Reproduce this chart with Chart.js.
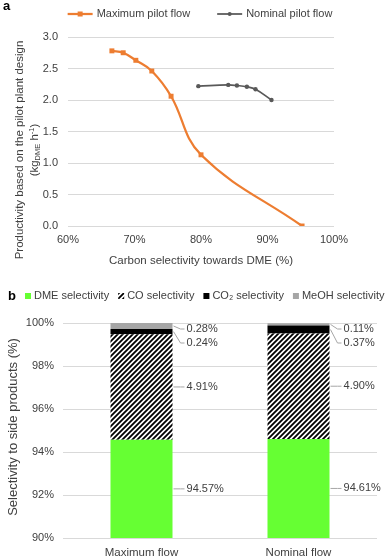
<!DOCTYPE html>
<html>
<head>
<meta charset="utf-8">
<script src="https://cdn.jsdelivr.net/npm/chart.js@4.4.0/dist/chart.umd.min.js"></script>
<style>
  html, body { margin: 0; padding: 0; background: #fff; }
  body { width: 392px; height: 559px; position: relative; overflow: hidden; font-family: 'Liberation Sans', Arial, sans-serif; }
  .box { position: absolute; left: 0; width: 392px; }
  #wrapA { top: 0; height: 272px; }
  #wrapB { top: 272px; height: 287px; }
  .tag { position: absolute; font-weight: bold; font-size: 13px; color: #000; line-height: 15px; }
</style>
</head>
<body>
<div class="box" id="wrapA"><canvas id="chartA" width="392" height="272"></canvas></div>
<div class="box" id="wrapB"><canvas id="chartB" width="392" height="287"></canvas></div>
<div class="tag" style="left:3px;top:-2px">a</div>
<div class="tag" style="left:8px;top:288px">b</div>
<script>
// (a) productivity vs carbon selectivity
const maxFlowSel  = [66.6, 68.3, 70.2, 72.6, 75.5, 80.0, 95.2];
const maxFlowProd = [2.78, 2.75, 2.63, 2.46, 2.06, 1.13, 0.00];
const nomFlowSel  = [79.6, 84.1, 85.4, 86.9, 88.2, 90.6];
const nomFlowProd = [2.22, 2.24, 2.23, 2.21, 2.17, 2.00];

// (b) selectivity to side products
const flowCats = ['Maximum flow', 'Nominal flow'];
const dmeSel  = [94.57, 94.61];
const coSel   = [4.91, 4.90];
const co2Sel  = [0.24, 0.37];
const meohSel = [0.28, 0.11];

const FONT = "'Liberation Sans', Arial, sans-serif";
const TXT = '#404040';
const gridColor = '#d9d9d9';

Chart.defaults.font.family = FONT;
Chart.defaults.color = TXT;

function pts(xs, ys) {
  return xs.map((x, i) => ({ x: x, y: ys[i] }));
}

// legend for chart a: line + marker + text
const legendA = {
  id: 'legendA',
  afterDraw(chart) {
    const ctx = chart.ctx;
    ctx.save();
    ctx.font = '11px ' + FONT;
    ctx.textBaseline = 'middle';
    const y = 14;
    const items = chart.data.datasets.map(ds => ({ ds: ds, w: 29 + ctx.measureText(ds.label).width }));
    const total = items.reduce((s, it) => s + it.w, 0) + 27 * (items.length - 1);
    let x = chart.width / 2 + 4 - total / 2;
    items.forEach(it => {
      const ds = it.ds;
      ctx.strokeStyle = ds.borderColor;
      ctx.lineWidth = ds.borderWidth;
      ctx.beginPath();
      ctx.moveTo(x, y);
      ctx.lineTo(x + 25, y);
      ctx.stroke();
      ctx.fillStyle = ds.borderColor;
      if (ds.pointStyle === 'rect') {
        ctx.fillRect(x + 12.5 - 2.5, y - 2.5, 5, 5);
      } else {
        ctx.beginPath();
        ctx.arc(x + 12.5, y, 2, 0, Math.PI * 2);
        ctx.fill();
      }
      ctx.fillStyle = TXT;
      ctx.fillText(ds.label, x + 29, y);
      x += it.w + 27;
    });
    ctx.restore();
  }
};

// y title of chart a, two lines with sub/superscript
const yTitleA = {
  id: 'yTitleA',
  afterDraw(chart) {
    const ctx = chart.ctx;
    const big = '11.5px ' + FONT;
    const small = '7.5px ' + FONT;
    const cy = 150;
    ctx.save();
    ctx.fillStyle = TXT;
    ctx.textBaseline = 'middle';
    ctx.translate(20, cy);
    ctx.rotate(-Math.PI / 2);
    ctx.font = big;
    ctx.textAlign = 'center';
    ctx.fillText('Productivity based on the pilot plant design', 0, 0);
    ctx.restore();

    const parts = [['(kg', big, 0], ['DME', small, 3], [' h', big, 0], ['-1', small, -3.5], [')', big, 0]];
    ctx.save();
    ctx.fillStyle = TXT;
    ctx.textBaseline = 'middle';
    ctx.textAlign = 'left';
    let total = 0;
    parts.forEach(p => { ctx.font = p[1]; total += ctx.measureText(p[0]).width; });
    ctx.translate(35, cy);
    ctx.rotate(-Math.PI / 2);
    let x = -total / 2;
    parts.forEach(p => {
      ctx.font = p[1];
      ctx.fillText(p[0], x, p[2]);
      x += ctx.measureText(p[0]).width;
    });
    ctx.restore();
  }
};

new Chart(document.getElementById('chartA'), {
  type: 'line',
  data: {
    datasets: [
      {
        label: 'Maximum pilot flow',
        data: pts(maxFlowSel, maxFlowProd),
        borderColor: '#ED7D31',
        backgroundColor: '#ED7D31',
        borderWidth: 2.25,
        pointStyle: 'rect',
        pointRadius: 3.5,
        pointBorderWidth: 0,
        tension: 0.4
      },
      {
        label: 'Nominal pilot flow',
        data: pts(nomFlowSel, nomFlowProd),
        borderColor: '#595959',
        backgroundColor: '#595959',
        borderWidth: 1.75,
        pointStyle: 'circle',
        pointRadius: 2.2,
        pointBorderWidth: 0,
        tension: 0.4
      }
    ]
  },
  options: {
    responsive: false,
    animation: false,
    layout: { padding: { top: 37, right: 58, left: 0, bottom: 0 } },
    plugins: {
      legend: { display: false },
      tooltip: { enabled: false }
    },
    scales: {
      x: {
        type: 'linear',
        min: 60,
        max: 100,
        ticks: { stepSize: 10, callback: v => v + '%', padding: 7, font: { size: 11 } },
        grid: { display: false, drawTicks: false },
        border: { display: false },
        title: {
          display: true,
          text: 'Carbon selectivity towards DME (%)',
          font: { size: 11.5 },
          padding: { top: 0, bottom: 4 }
        },
        afterFit: s => { s.height = 46; }
      },
      y: {
        min: 0,
        max: 3,
        ticks: { stepSize: 0.5, callback: v => v.toFixed(1), padding: 10, font: { size: 11 } },
        grid: { color: gridColor, drawTicks: false },
        border: { display: false },
        afterFit: s => { s.width = 68; }
      }
    }
  },
  plugins: [legendA, yTitleA]
});

// chart b
const ctxB = document.getElementById('chartB').getContext('2d');

function hatch() {
  const c = document.createElement('canvas');
  c.width = 5; c.height = 5;
  const g = c.getContext('2d');
  g.fillStyle = '#fff';
  g.fillRect(0, 0, 5, 5);
  g.strokeStyle = '#000';
  g.lineWidth = 1.8;
  g.beginPath();
  g.moveTo(-1, 6); g.lineTo(6, -1);
  g.moveTo(-1, 1); g.lineTo(1, -1);
  g.moveTo(4, 6); g.lineTo(6, 4);
  g.stroke();
  return ctxB.createPattern(c, 'repeat');
}

const legendB = {
  id: 'legendB',
  afterDraw(chart) {
    const ctx = chart.ctx;
    ctx.save();
    ctx.font = '11px ' + FONT;
    ctx.textBaseline = 'middle';
    let x = 25;
    const y = 24;
    chart.data.datasets.forEach(ds => {
      ctx.fillStyle = ds.backgroundColor;
      ctx.fillRect(x, y - 3, 6, 6);
      x += 9;
      ctx.fillStyle = TXT;
      ctx.fillText(ds.label, x, y);
      x += ctx.measureText(ds.label).width + 9;
    });
    ctx.restore();
  }
};

const yTitleB = {
  id: 'yTitleB',
  afterDraw(chart) {
    const ctx = chart.ctx;
    ctx.save();
    ctx.fillStyle = TXT;
    ctx.font = '13px ' + FONT;
    ctx.textAlign = 'center';
    ctx.textBaseline = 'middle';
    ctx.translate(13, 155);
    ctx.rotate(-Math.PI / 2);
    ctx.fillText('Selectivity to side products (%)', 0, 0);
    ctx.restore();
  }
};

// value labels with leader lines at the right of each bar
const barLabels = {
  id: 'barLabels',
  afterDatasetsDraw(chart) {
    const { ctx, chartArea } = chart;
    ctx.save();
    ctx.font = '11px ' + FONT;
    ctx.fillStyle = TXT;
    ctx.strokeStyle = '#a6a6a6';
    ctx.lineWidth = 1;
    ctx.textBaseline = 'middle';
    ctx.textAlign = 'left';
    for (let j = 0; j < chart.data.labels.length; j++) {
      let prev = -Infinity;
      for (let i = chart.data.datasets.length - 1; i >= 0; i--) {
        const bar = chart.getDatasetMeta(i).data[j];
        const top = Math.max(bar.y, chartArea.top);
        const bottom = Math.min(bar.base, chartArea.bottom);
        const mid = (top + bottom) / 2;
        const ly = Math.max(mid, chartArea.top + 6, prev + 14);
        prev = ly;
        const right = bar.x + bar.width / 2;
        ctx.beginPath();
        ctx.moveTo(right + 1, mid);
        ctx.lineTo(right + 8, ly);
        ctx.lineTo(right + 12, ly);
        ctx.stroke();
        ctx.fillText(chart.data.datasets[i].data[j].toFixed(2) + '%', right + 14, ly);
      }
    }
    ctx.restore();
  }
};

new Chart(ctxB, {
  type: 'bar',
  data: {
    labels: flowCats,
    datasets: [
      { label: 'DME selectivity', data: dmeSel, backgroundColor: '#66FF33' },
      { label: 'CO selectivity', data: coSel, backgroundColor: hatch() },
      { label: 'CO\u2082 selectivity', data: co2Sel, backgroundColor: '#000000' },
      { label: 'MeOH selectivity', data: meohSel, backgroundColor: '#A6A6A6' }
    ]
  },
  options: {
    responsive: false,
    animation: false,
    layout: { padding: { top: 51, right: 15, left: 0, bottom: 0 } },
    datasets: { bar: { barPercentage: 0.395, categoryPercentage: 1, borderWidth: 0 } },
    plugins: {
      legend: { display: false },
      tooltip: { enabled: false }
    },
    scales: {
      x: {
        stacked: true,
        grid: { display: false, drawTicks: false },
        border: { display: false },
        ticks: { padding: 8, font: { size: 11.5 } },
        afterFit: s => { s.height = 21; }
      },
      y: {
        stacked: true,
        min: 90,
        max: 100,
        ticks: { stepSize: 2, callback: v => v + '%', padding: 9, font: { size: 11 } },
        grid: { color: gridColor, drawTicks: false },
        border: { display: false },
        afterFit: s => { s.width = 63; }
      }
    }
  },
  plugins: [legendB, yTitleB, barLabels]
});
</script>
</body>
</html>
